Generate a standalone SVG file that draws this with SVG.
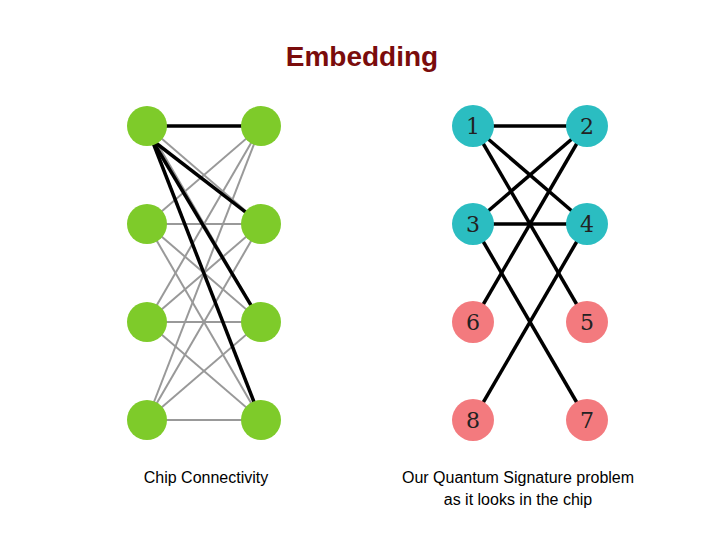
<svg xmlns="http://www.w3.org/2000/svg" width="720" height="540" viewBox="0 0 720 540">
<style>
.g{stroke:#999;stroke-width:2}
.b{stroke:#000;stroke-width:3.5}
.gr{fill:#7ecb2a}
.t{fill:#2bbdc1}
.p{fill:#f37a7e}
.n{font-family:"DejaVu Serif",serif;font-size:22px;fill:#222;text-anchor:middle}
.l{font-family:"Liberation Sans",Arial,sans-serif;font-size:16px;fill:#000;text-anchor:middle}
</style>
<rect width="720" height="540" fill="#fff"/>
<text x="362" y="66" font-family="Liberation Sans,Arial,sans-serif" font-size="28" font-weight="bold" fill="#7a0c0c" text-anchor="middle">Embedding</text>
<g id="connectors">
<g class="g">
<line x1="147" y1="126" x2="261" y2="224"/><line x1="147" y1="126" x2="261" y2="322"/><line x1="147" y1="126" x2="261" y2="420"/>
<line x1="147" y1="224" x2="261" y2="126"/><line x1="147" y1="224" x2="261" y2="224"/><line x1="147" y1="224" x2="261" y2="322"/><line x1="147" y1="224" x2="261" y2="420"/>
<line x1="147" y1="322" x2="261" y2="126"/><line x1="147" y1="322" x2="261" y2="224"/><line x1="147" y1="322" x2="261" y2="322"/><line x1="147" y1="322" x2="261" y2="420"/>
<line x1="147" y1="420" x2="261" y2="126"/><line x1="147" y1="420" x2="261" y2="224"/><line x1="147" y1="420" x2="261" y2="322"/><line x1="147" y1="420" x2="261" y2="420"/>
</g>
<g class="b">
<line x1="147" y1="126" x2="261" y2="126"/><line x1="152" y1="140" x2="261" y2="224"/><line x1="152" y1="140" x2="261" y2="322"/><line x1="152" y1="140" x2="261" y2="420"/>
<line x1="473" y1="126" x2="587" y2="126"/><line x1="473" y1="126" x2="587" y2="224"/><line x1="473" y1="126" x2="587" y2="322"/>
<line x1="473" y1="224" x2="587" y2="126"/><line x1="473" y1="224" x2="587" y2="224"/><line x1="473" y1="224" x2="587" y2="420"/>
<line x1="473" y1="322" x2="587" y2="126"/><line x1="473" y1="420" x2="587" y2="224"/>
</g>
</g>
<g id="L1"><circle class="gr" cx="147" cy="126" r="20"/></g>
<g id="L2"><circle class="gr" cx="147" cy="224" r="20"/></g>
<g id="L3"><circle class="gr" cx="147" cy="322" r="20"/></g>
<g id="L4"><circle class="gr" cx="147" cy="420" r="20"/></g>
<g id="R1"><circle class="gr" cx="261" cy="126" r="20"/></g>
<g id="R2"><circle class="gr" cx="261" cy="224" r="20"/></g>
<g id="R3"><circle class="gr" cx="261" cy="322" r="20"/></g>
<g id="R4"><circle class="gr" cx="261" cy="420" r="20"/></g>
<g id="n1"><circle class="t" cx="473" cy="126" r="21"/><text class="n" x="473" y="134">1</text></g>
<g id="n2"><circle class="t" cx="587" cy="126" r="21"/><text class="n" x="587" y="134">2</text></g>
<g id="n3"><circle class="t" cx="473" cy="224" r="21"/><text class="n" x="473" y="232">3</text></g>
<g id="n4"><circle class="t" cx="587" cy="224" r="21"/><text class="n" x="587" y="232">4</text></g>
<g id="n6"><circle class="p" cx="473" cy="322" r="21"/><text class="n" x="473" y="330">6</text></g>
<g id="n5"><circle class="p" cx="587" cy="322" r="21"/><text class="n" x="587" y="330">5</text></g>
<g id="n8"><circle class="p" cx="473" cy="420" r="21"/><text class="n" x="473" y="428">8</text></g>
<g id="n7"><circle class="p" cx="587" cy="420" r="21"/><text class="n" x="587" y="428">7</text></g>
<text class="l" x="206" y="483">Chip Connectivity</text>
<text class="l" x="518" y="483">Our Quantum Signature problem</text>
<text class="l" x="518" y="505">as it looks in the chip</text>
</svg>
